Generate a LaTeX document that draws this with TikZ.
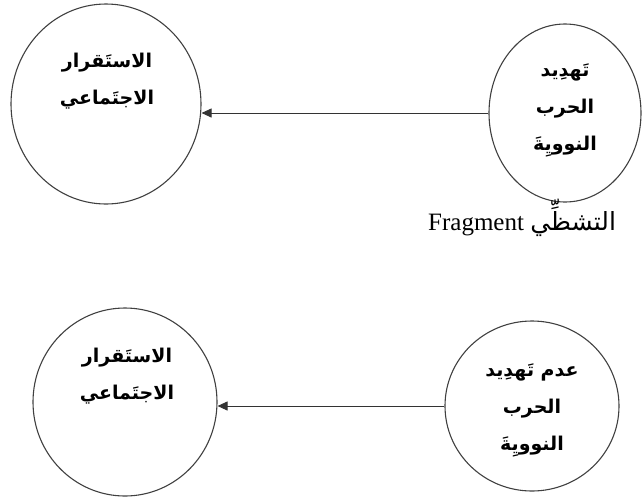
\documentclass[tikz,border=0pt]{standalone}
\usepackage{fontspec}
\setmainfont{Liberation Serif}
\newfontfamily\arabicfont[Script=Arabic]{DejaVu Sans}
\newfontfamily\arabicbold[Script=Arabic]{DejaVu Sans Bold}
\TeXXeTstate=1
\usetikzlibrary{shapes.geometric,arrows.meta}
\newcommand{\artext}[1]{\beginR #1\endR}
\tikzset{
	circ/.style={ellipse, draw=black!75, line width=1.1pt, inner sep=0pt},
	artitle/.style={align=center, inner sep=0pt, font=\arabicbold\fontsize{19}{37}\selectfont},
	link/.style={draw=black!80, line width=0.9pt, -{Triangle[length=10pt,width=9pt]}}
}
\begin{document}
\begin{tikzpicture}[x=1pt,y=-1pt]
	\useasboundingbox (0,0) rectangle (643,499);

	\node[circ, minimum width=190pt, minimum height=200pt] (a1) at (106,104) {};
	\node[circ, minimum width=152pt, minimum height=178pt] (b1) at (565,113) {};
	\node[circ, minimum width=184pt, minimum height=188pt] (a2) at (125,402) {};
	\node[circ, minimum width=174pt, minimum height=170pt] (b2) at (532,406) {};

	\node[artitle] (t1) at (107,81) {\artext{الاستَقرار}\\\artext{الاجتَماعي}};
	\node[artitle] (t2) at (565,110) {\artext{تَهدِيد}\\\artext{الحرب}\\\artext{النوويِةَ}};
	\node[artitle] (t3) at (127,376) {\artext{الاستَقرار}\\\artext{الاجتَماعي}};
	\node[artitle] (t4) at (532,410) {\artext{عدم تَهدِيد}\\\artext{الحرب}\\\artext{النوويِةَ}};

	\node[anchor=base west, inner sep=0pt, font=\fontsize{25}{30}\selectfont] (frag) at (428,230) {Fragment {\arabicfont\artext{التشظِّي}}};

	\foreach \i in {1,2}
	{
		\draw[link] (b\i.west) -- (b\i.west -| a\i.east);
	};
\end{tikzpicture}
\end{document}
